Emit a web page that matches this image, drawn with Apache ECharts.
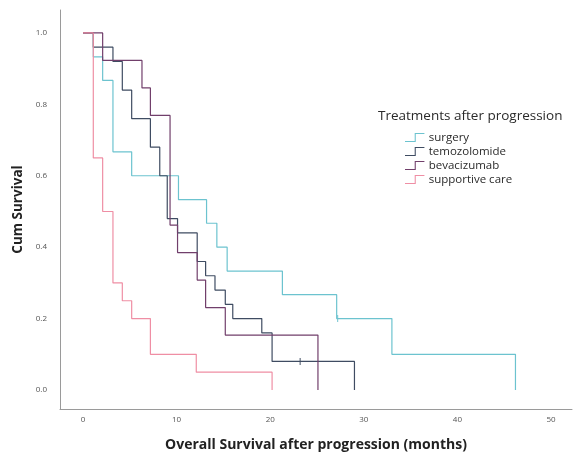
<!DOCTYPE html>
<html><head><meta charset="utf-8">
<script src="https://cdn.jsdelivr.net/npm/echarts@6/dist/echarts.min.js"></script>
<style>html,body{margin:0;padding:0;background:#fff}#c{width:575px;height:457px}</style>
</head><body><div id="c"></div>
<script>
const seriesNames = ['surgery', 'temozolomide', 'bevacizumab', 'supportive care'];
// Kaplan-Meier steps: [time (months), cumulative survival]
const surgery = [[0,1],[1.1,0.933],[2.1,0.867],[3.2,0.667],[5.2,0.6],[10.2,0.533],[13.2,0.467],[14.3,0.4],[15.4,0.333],[21.3,0.267],[27.1,0.2],[33.0,0.1],[46.2,0]];
const temozolomide = [[0,1],[1.1,0.96],[3.2,0.92],[4.2,0.84],[5.2,0.76],[7.2,0.68],[8.2,0.6],[9.0,0.48],[10.1,0.44],[12.2,0.36],[13.1,0.32],[14.1,0.28],[15.2,0.24],[16.0,0.2],[19.1,0.16],[20.2,0.08],[29.0,0]];
const bevacizumab = [[0,1],[2.1,0.923],[6.3,0.846],[7.2,0.769],[9.3,0.462],[10.1,0.385],[12.2,0.308],[13.1,0.231],[15.2,0.154],[25.1,0]];
const supportiveCare = [[0,1],[1.1,0.65],[2.1,0.5],[3.2,0.3],[4.2,0.25],[5.2,0.2],[7.2,0.1],[12.1,0.05],[20.2,0]];
const censorSurgery = [[27.2,0.2]];
const censorTemozolomide = [[23.2,0.08]];
const yTicks = [0, 0.2, 0.4, 0.6, 0.8, 1.0];
const xTicks = [0, 10, 20, 30, 40, 50];
const colors = ['#6cc3cf', '#3f4c62', '#713f6b', '#ef8ea4'];

const chart = echarts.init(document.getElementById('c'), null, {renderer: 'canvas'});
const font = '"Open Sans", Lato, sans-serif';
const lineData = [surgery, temozolomide, bevacizumab, supportiveCare];
const series = lineData.map((d, i) => ({
  name: seriesNames[i], type: 'line', step: 'end', data: d,
  showSymbol: false, symbol: 'none', animation: false,
  lineStyle: {color: colors[i], width: 1.2}, itemStyle: {color: colors[i]}
}));
[[censorSurgery, 0], [censorTemozolomide, 1]].forEach(([d, ci]) => series.push({
  type: 'scatter', data: d, symbol: 'rect', symbolSize: [1.2, 7],
  itemStyle: {color: colors[ci]}, animation: false, silent: true
}));
chart.setOption({
  animation: false,
  title: [{
    text: 'Treatments after progression', left: 373, top: 104,
    textStyle: {fontFamily: font, fontSize: 13.5, fontWeight: 'normal', color: '#2a2a2a'}
  }],
  legend: {
    data: seriesNames, orient: 'vertical', left: 400, top: 126, itemGap: 1,
    itemWidth: 22, itemHeight: 9,
    icon: 'path://M0,9 L11,9 L11,0 L22,0 L22,1.2 L12.2,1.2 L12.2,10.2 L0,10.2 Z',
    textStyle: {fontFamily: font, fontSize: 11.5, lineHeight: 13, color: '#2a2a2a', padding: [0, 0, 0, -2]}
  },
  grid: {left: 60, right: 3, top: 10, bottom: 47, containLabel: false},
  xAxis: {
    type: 'value', min: -2.457, max: 52.24,
    name: 'Overall Survival after progression (months)', nameLocation: 'middle', nameGap: 29,
    nameTextStyle: {fontFamily: font, fontSize: 14, fontWeight: 'bold', color: '#222'},
    axisLine: {onZero: false, lineStyle: {color: '#9a9a9a', width: 1}},
    axisTick: {show: false},
    splitLine: {show: false},
    axisLabel: {customValues: xTicks, fontSize: 8, color: '#555', margin: 7, fontFamily: font}
  },
  yAxis: {
    type: 'value', min: -0.0531, max: 1.0642,
    name: 'Cum Survival', nameLocation: 'middle', nameGap: 32, nameRotate: 90,
    nameTextStyle: {fontFamily: font, fontSize: 13.5, fontWeight: 'bold', color: '#222'},
    axisLine: {show: true, onZero: false, lineStyle: {color: '#9a9a9a', width: 1}},
    axisTick: {show: false},
    splitLine: {show: false},
    axisLabel: {customValues: yTicks, fontSize: 8, color: '#555', margin: 13, fontFamily: font,
      formatter: v => v.toFixed(1)}
  },
  series: series
});
</script></body></html>
